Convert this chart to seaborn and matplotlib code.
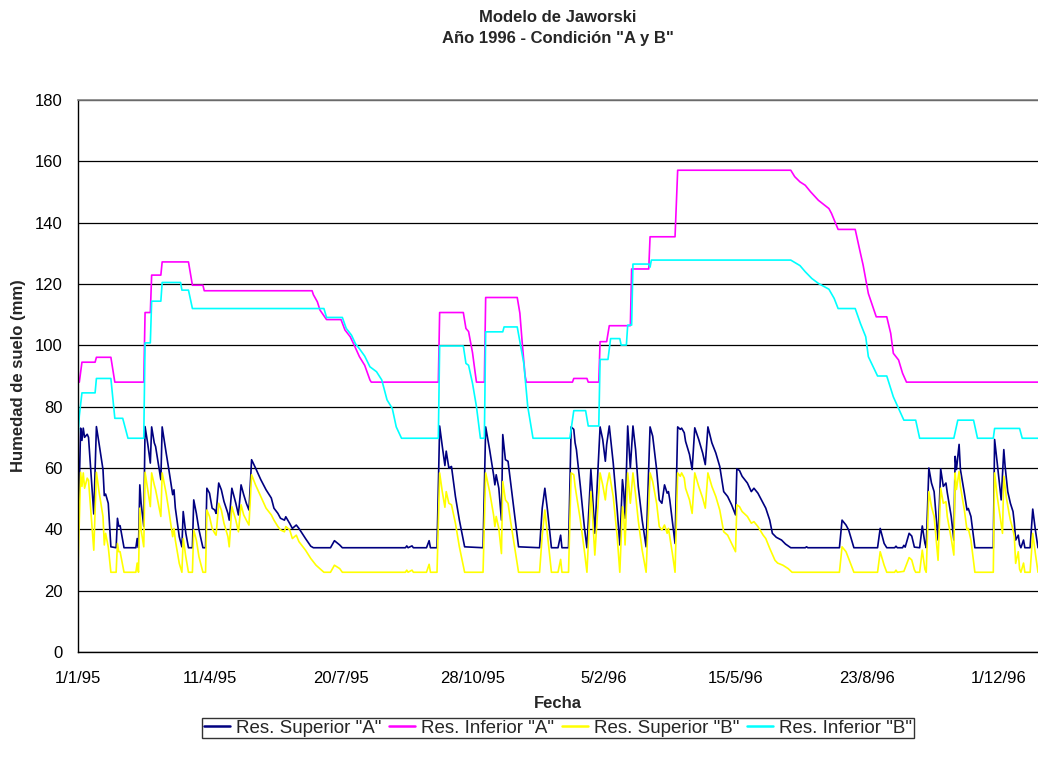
import pandas as pd
import matplotlib
matplotlib.use("Agg")
import matplotlib.pyplot as plt
from matplotlib.lines import Line2D
import seaborn as sns

# ---------------------------------------------------------------------------
# Datos: humedad de suelo (mm) por reservorio, en días desde el 1/1/95
# ---------------------------------------------------------------------------
inicio = pd.Timestamp("1995-01-01")

dias_sup_a = [0, 2, 3, 4, 5, 7, 8, 12, 14, 16, 19, 20, 21, 23, 25, 29, 30, 31, 32, 35,
              44, 45, 46, 47, 48, 50, 51, 53, 55, 56, 58, 59, 63, 64, 67, 69, 72, 73, 74, 77,
              79, 80, 82, 84, 87, 88, 90, 92, 95, 97, 98, 100, 102, 104, 105, 107, 109, 111, 114, 115,
              117, 120, 122, 124, 126, 128, 130, 132, 135, 139, 143, 147, 149, 152, 154, 157, 158, 161, 163, 166,
              168, 173, 177, 179, 192, 195, 199, 201,
              249, 250, 251, 254, 255, 265, 267, 268, 273, 275, 277, 279, 280, 282, 284, 287, 290, 294,
              308, 310, 313, 316, 317, 318, 320, 322, 323, 325, 327, 329, 332, 335, 351, 353, 355, 357,
              360, 365, 367, 368, 373, 375, 377, 378, 379, 382, 385, 387, 390, 391, 393, 397, 399, 401,
              402, 404, 407, 410, 412, 414, 415, 416, 418, 420, 422, 424, 426, 429, 432, 435, 437, 440,
              442, 444, 446, 448, 449, 450, 452, 454, 456, 458, 459, 461, 462, 465, 467, 469, 472, 475,
              477, 479, 482, 485,
              488, 491, 494, 497, 500, 501, 503, 505, 509, 512, 514, 517, 521, 523, 526, 528, 531, 535,
              538, 542, 553, 554, 555, 579, 581, 584, 586, 590, 608, 610, 613, 615, 621, 622, 623, 627,
              628, 629, 632, 634, 636, 640, 642, 644, 645, 647, 649, 651, 654, 656, 658, 660, 661, 664,
              666, 667, 668, 670, 671, 674, 676, 677, 679, 682, 696, 697, 699, 702, 704, 705, 707, 709,
              711, 712, 713, 715, 716, 717, 719, 720, 724, 726, 728, 730]
sup_a = [37, 73, 69, 73, 70, 71, 70, 45, 73.5, 68, 59.5, 51, 51.5, 48.5, 34.3, 34, 43.6, 41, 41.2, 34,
         34, 37, 34, 54.5, 48.5, 41, 73.5, 68, 61.6, 73.4, 68.2, 67, 56.2, 73.4, 65, 59.7, 51.3, 52.9, 47, 37.6,
         34.3, 45.8, 38.7, 34, 34, 49.6, 45.2, 39.8, 34, 34, 53.4, 51.8, 46.9, 46.3, 45.2, 55.1, 52.9, 49.1, 45.2, 43,
         53.4, 48.5, 44.7, 54.5, 51.3, 48.5, 46.3, 62.7, 60, 56.2, 52.9, 50.2, 46.9, 45.2, 43.6, 43, 44.1, 41.9, 40.3, 41.4,
         40.3, 37, 34.5, 34, 34, 36.3, 34.9, 34,
         34, 34.6, 34, 34.6, 34, 34, 36.3, 34, 34, 73.7, 67.1, 60.8, 65.5, 60, 60.5, 50.7, 43, 34.3,
         34, 73.4, 66, 57.8, 54.5, 57.8, 53.4, 43, 70.9, 62.7, 62.2, 55.1, 44.7, 34.3, 34, 46.9, 53.4, 46.3,
         34, 34, 38.1, 34, 34, 73.4, 72.6, 68.2, 66, 54, 40.9, 34, 59.5, 52.9, 38.7, 73.4, 69.3, 62.2,
         67.7, 73.7, 61.6, 46.3, 34.9, 56.2, 52.3, 43.6, 73.7, 60, 73.7, 66, 54, 43, 34.3, 73.4, 70.4, 59.5,
         49.6, 48.5, 54.5, 51.8, 52.3, 49.6, 42.5, 35.4, 73.4, 72.6, 73, 71.5, 68.7, 64.4, 59.5, 73.1, 69.3, 64.9,
         61.1, 73.4, 68.2, 64.9,
         60.5, 52.3, 50.7, 48, 44.7, 59.7, 59.2, 57.3, 55.1, 52.3, 53.4, 51.8, 48.5, 46.9, 43, 38.7, 37.4, 36.5,
         35.2, 34, 34, 34.3, 34, 34, 43, 41.4, 39.8, 34, 34, 40.3, 35.4, 34, 34, 34.5, 34, 34,
         34.8, 34.2, 38.7, 37.8, 34.2, 34, 41.1, 35.5, 34, 60, 55.1, 52.3, 36.5, 59.7, 54, 55.1, 52, 44.2,
         36.5, 63.8, 59.5, 67.7, 59.5, 51.8, 46.3, 46.8, 44.2, 34, 34, 69.3, 61.6, 49.6, 66, 60.5, 52.3, 48.5,
         45.8, 42, 36.5, 38.1, 35, 34, 36.5, 34, 34, 46.6, 39.8, 34]

dias_sup_b = [0, 2, 3, 4, 5, 7, 8, 12, 14, 16, 19, 20, 21, 23, 25, 29, 30, 31, 32, 35,
              44, 45, 46, 47, 48, 50, 51, 53, 55, 56, 58, 59, 63, 64, 67, 69, 72, 73, 74, 77,
              79, 80, 82, 84, 87, 88, 90, 92, 95, 97, 98, 100, 102, 104, 105, 107, 109, 111, 114, 115,
              117, 120, 122, 124, 126, 128, 130, 132, 135, 139, 143, 147, 149, 152, 154, 157, 158, 161, 163, 166,
              168, 173, 177, 181, 187, 192, 195, 199, 201,
              249, 250, 251, 254, 255, 265, 267, 268, 273, 275, 277, 279, 280, 282, 284, 287, 290, 294,
              308, 310, 313, 316, 317, 318, 320, 322, 323, 325, 327, 329, 332, 335, 351, 353, 355, 357,
              360, 365, 367, 368, 373, 375, 377, 378, 379, 382, 385, 387, 390, 391, 393, 397, 399, 401,
              402, 404, 407, 410, 412, 414, 415, 416, 418, 420, 422, 424, 426, 429, 432, 435, 437, 440,
              442, 444, 446, 448, 449, 450, 452, 454, 456, 458, 459, 461, 462, 465, 467, 469, 472, 475,
              477, 479, 482, 485,
              488, 491, 494, 497, 500, 501, 503, 505, 509, 512, 514, 517, 521, 523, 526, 530, 532, 536,
              540, 543, 579, 581, 584, 586, 590, 608, 610, 613, 615, 621, 622, 623, 628, 632, 634, 636,
              637, 640, 642, 644, 645, 647, 649, 651, 654, 656, 658, 660, 661, 664, 666, 667, 668, 670,
              671, 674, 676, 677, 679, 682, 696, 697, 699, 703, 704, 706, 708, 709, 711, 712, 713, 715,
              716, 717, 719, 720, 724, 726, 728, 730]
sup_b = [27, 58.6, 54, 58.4, 53.4, 56.7, 56, 33.2, 58.6, 52.3, 44.2, 34.9, 38.7, 34.3, 26, 26, 35.4, 32.7, 32.7, 26,
         26, 29, 26, 46.9, 39.8, 34.3, 58.6, 52.9, 47.4, 58.4, 54.5, 52.9, 44.2, 58.4, 51.8, 46.3, 37.6, 40.3, 36.5, 28.9,
         26, 37, 31, 26, 26, 39.8, 36.5, 31, 26, 26, 46.3, 44.2, 40.3, 38.7, 38.1, 48.5, 46.3, 42, 37.6, 34.3,
         47.4, 43, 39.2, 48, 44.7, 43, 41.4, 57.8, 54.5, 50.7, 46.9, 44.7, 43, 40.9, 39.8, 39.2, 40.9, 39.8, 37, 38.1,
         36, 33.2, 30.5, 28.3, 26, 26, 28.3, 27.2, 26,
         26, 26.7, 26, 26.7, 26, 26, 28.6, 26, 26, 58.4, 52.3, 47.2, 52.3, 48.5, 48, 42, 34.3, 26,
         26, 58.4, 52.3, 44.7, 40.9, 44.2, 40.3, 32.1, 55.6, 49.6, 48.5, 42.5, 34.3, 26, 26, 38.1, 46.3, 38.1,
         26, 26, 30.2, 26, 26, 58.4, 57.8, 54, 51.3, 43, 33.2, 26, 52.3, 46.3, 31.6, 58.4, 54.5, 49.6,
         54, 58.4, 50.7, 37.6, 26, 47.4, 44.2, 34.9, 58.4, 48.5, 58.4, 51.3, 43, 33.2, 26, 58.4, 55.6, 48.5,
         40.9, 39.8, 41.4, 38.7, 40.3, 37.6, 32.1, 26, 58.4, 57.3, 58.4, 56.7, 53.4, 49.6, 45.2, 58.4, 54, 50.2,
         46.9, 58.4, 54, 50.7,
         46.3, 39.2, 38.1, 35.4, 32.7, 48, 47.4, 45.8, 44.2, 42, 42.5, 40.9, 38.1, 37, 33.8, 29.9, 29, 28.3,
         27.2, 26, 26, 34.3, 32.7, 30.5, 26, 26, 32.7, 28.3, 26, 26, 26.7, 26, 26.3, 30.8, 30, 26.8,
         26, 26, 33.2, 27, 26, 52.3, 47.4, 44.2, 29.9, 53.4, 48.5, 49, 44.2, 37, 31.6, 58.4, 53, 58.9,
         54, 46.3, 39.8, 40.3, 36.5, 26, 26, 58.4, 50.7, 38.7, 57.3, 50.2, 45.2, 43, 39.8, 37.6, 28.9, 32.7,
         27, 26, 29, 26, 26, 38.7, 32.1, 26]

dias_inf_a = [0, 1, 3, 13, 14, 25, 28, 50, 51, 55, 56, 63, 64, 84, 87, 95, 96, 178, 179, 182,
              184, 189, 200, 203, 207, 210, 214, 218, 222, 223, 274, 275, 293, 295, 297, 300, 302, 303, 309, 310,
              334, 336, 338, 340, 341, 376, 377, 387, 388, 396, 397, 402, 404, 420, 421, 434, 435, 454, 456, 542,
              545, 549, 553, 557, 563, 571, 573, 578, 591, 595, 597, 601, 607, 615, 618, 620, 624, 627, 630, 730]
inf_a = [88, 88, 94.5, 94.5, 96.1, 96.1, 88, 88, 110.7, 110.7, 122.9, 122.9, 127.2, 127.2, 119.6, 119.6, 117.8, 117.8, 116.5, 114.2,
         111.5, 108.4, 108.4, 105, 102.8, 100.1, 96.3, 93.5, 88.7, 88, 88, 110.7, 110.7, 105.5, 104.5, 97.6, 91.1, 88, 88, 115.6,
         115.6, 110.5, 99.7, 90, 88, 88, 89.2, 89.2, 88, 88, 101.2, 101.2, 106.4, 106.4, 124.9, 124.9, 135.4, 135.4, 157.1, 157.1,
         155, 153.3, 152.2, 150.1, 147.3, 144.6, 143, 137.8, 137.8, 130, 126.2, 116.9, 109.3, 109.3, 103.9, 97.4, 95.2, 90.9, 88, 88]

dias_inf_b = [0, 1, 3, 13, 14, 25, 28, 34, 38, 50, 51, 55, 56, 63, 64, 78, 79, 84, 87, 187,
              189, 201, 204, 208, 211, 214, 218, 222, 227, 231, 235, 239, 242, 246, 274, 275, 293, 295, 297, 300,
              303, 306, 309, 310, 323, 324, 334, 339, 342, 346, 374, 377, 386, 388, 396, 397, 403, 405, 412, 413,
              417, 418, 421, 422, 434, 435, 436, 542, 549, 553, 558, 563, 571, 575, 578, 591, 595, 599, 601, 608,
              615, 620, 624, 628, 637, 640, 666, 669, 681, 684, 696, 697, 716, 718, 730]
inf_b = [70, 77, 84.5, 84.5, 89.2, 89.2, 76.2, 76.2, 69.7, 69.7, 100.8, 100.8, 114.4, 114.4, 120.5, 120.5, 118, 118, 112, 112,
         109.1, 109.1, 105.5, 103.3, 100.5, 98.9, 96.5, 93, 91.4, 88.7, 82.2, 79.4, 73.4, 69.7, 69.7, 99.8, 99.8, 94.1, 93.5, 87.6,
         80, 69.7, 69.7, 104.4, 104.4, 106, 106, 94.1, 80, 69.7, 69.7, 78.7, 78.7, 73.7, 73.7, 95.4, 95.4, 102.2, 102.2, 100.1,
         100.1, 106.6, 106.6, 126.5, 126.5, 125.5, 127.8, 127.8, 126, 124, 121.8, 120.2, 118.3, 115.3, 112, 112, 107.1, 102.8, 96.3, 90,
         90, 83.2, 79.4, 75.6, 75.6, 69.7, 69.7, 75.6, 75.6, 69.7, 69.7, 72.9, 72.9, 69.7, 69.7]

series = ['Res. Superior "A"', 'Res. Inferior "A"', 'Res. Superior "B"', 'Res. Inferior "B"']
colores = ["#000080", "#FF00FF", "#FFFF00", "#00FFFF"]

dias_ticks = [0, 100, 200, 300, 400, 500, 600, 700]
etiquetas_x = ["1/1/95", "11/4/95", "20/7/95", "28/10/95", "5/2/96", "15/5/96", "23/8/96", "1/12/96"]
ticks_y = [0, 20, 40, 60, 80, 100, 120, 140, 160, 180]

# ---------------------------------------------------------------------------
# Tabla larga para seaborn
# ---------------------------------------------------------------------------
tablas = []
for nombre, dias, valores in zip(series,
                                 [dias_sup_a, dias_inf_a, dias_sup_b, dias_inf_b],
                                 [sup_a, inf_a, sup_b, inf_b]):
    tablas.append(pd.DataFrame({
        "Fecha": inicio + pd.to_timedelta(dias, unit="D"),
        "Humedad": valores,
        "Serie": nombre,
    }))
df = pd.concat(tablas, ignore_index=True)

sns.set_theme(style="white")
plt.rcParams["font.family"] = ["Liberation Sans", "DejaVu Sans"]

fig = plt.figure(figsize=(10.38, 7.59), dpi=100)
ax = fig.add_axes([78 / 1038, 1 - 652 / 759, 960 / 1038, 552 / 759])

sns.lineplot(data=df, x="Fecha", y="Humedad", hue="Serie", hue_order=series,
             palette=colores, estimator=None, sort=False, linewidth=1.2,
             legend=False, ax=ax)

# Ejes
ax.set_xlim(inicio, inicio + pd.Timedelta(days=730))
ax.set_ylim(0, 180)
ax.set_yticks(ticks_y)
ax.set_yticklabels([str(v) for v in ticks_y])
ax.set_xticks(inicio + pd.to_timedelta(dias_ticks, unit="D"))
ax.set_xticklabels(etiquetas_x)
ax.tick_params(axis="both", which="major", direction="out", length=5, width=1,
               color="black", labelsize=12, labelcolor="black")
ax.tick_params(axis="y", pad=6)
ax.tick_params(axis="x", pad=9)

ax.yaxis.grid(True, color="black", linewidth=0.9)
ax.xaxis.grid(False)
ax.set_axisbelow(True)
for lado in ["left", "bottom"]:
    ax.spines[lado].set_color("black")
    ax.spines[lado].set_linewidth(1.0)
ax.spines["right"].set_visible(False)
ax.spines["top"].set_color("#808080")
ax.spines["top"].set_linewidth(1.2)

ax.set_xlabel("Fecha", fontsize=12, fontweight="bold")
ax.set_ylabel("Humedad de suelo (mm)", fontsize=12, fontweight="bold")
ax.xaxis.set_label_coords(0.5, -0.080)
ax.yaxis.set_label_coords(-0.054, 0.5)

# Títulos
cx = (78 + 1038) / 2 / 1038
fig.text(cx, 1 - 17 / 759, "Modelo de Jaworski", ha="center", va="center",
         fontsize=12, fontweight="bold")
fig.text(cx, 1 - 38 / 759, 'Año 1996 - Condición "A y B"', ha="center", va="center",
         fontsize=12, fontweight="bold")

# Leyenda
manijas = [Line2D([0], [0], color=c, linewidth=1.8) for c in colores]
leg = fig.legend(manijas, series, loc="center", bbox_to_anchor=(cx, 1 - 728 / 759),
                 ncol=4, fontsize=13.5, frameon=True, fancybox=False, shadow=False,
                 borderpad=0.1, handlelength=1.35, handletextpad=0.32,
                 columnspacing=0.45, borderaxespad=0)
leg.get_frame().set_edgecolor("black")
leg.get_frame().set_linewidth(1.0)
leg.get_frame().set_facecolor("white")

fig.savefig("out.png", dpi=100, facecolor="white")
